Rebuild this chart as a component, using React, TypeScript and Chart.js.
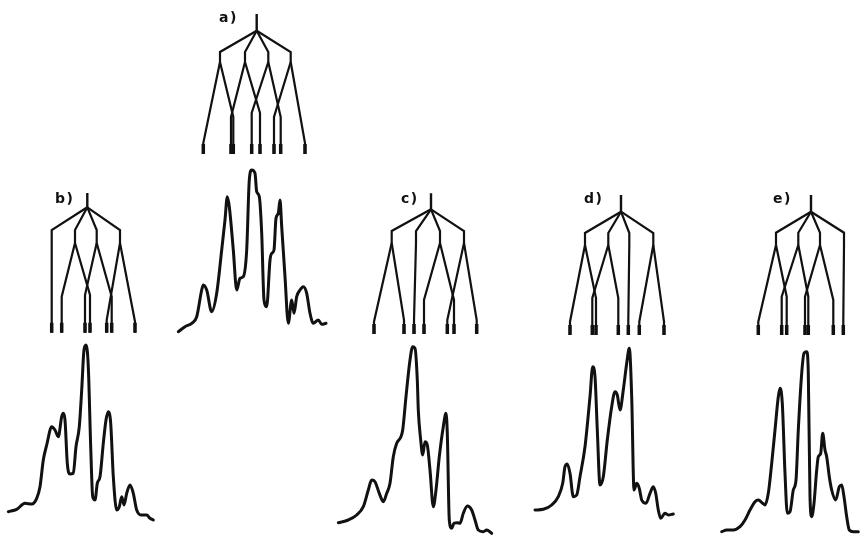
import React, { useEffect, useRef } from "react";
import { Chart, registerables } from "chart.js";

Chart.register(...registerables);

const INK = "#111111";

const panelLabels = ["a)", "b)", "c)", "d)", "e)"];

// ---- splitting trees (positions along the frequency axis, panel-local units) ----
const rootA = 86.7;
const nodesA = [50, 75, 98.3, 120.7];
const leavesA = [33.3, 61, 63.3, 81.7, 90, 104, 110.7, 135];
const leafParentA = [0, 1, 0, 2, 1, 3, 2, 3];
const leafBendA = [143, 117, 117, 113, 113, 117, 117, 143];

const rootB = 87.3;
const nodesB = [51.7, 75, 96.7, 120];
const leavesB = [51.7, 61.7, 85, 90, 106.7, 111.7, 135];
const leafParentB = [0, 1, 2, 1, 3, 2, 3];
const leafBendB = [63, 116.7, 115, 115, 140, 116.7, 141.7];

const rootC = 101;
const nodesC = [61.7, 86, 110, 134];
const leavesC = [44, 74, 84, 94, 117.3, 124, 146.7];
const leafParentC = [0, 0, 1, 2, 3, 2, 3];
const leafBendC = [141.7, 140, 140, 120, 140, 120, 140];

const rootD = 111;
const nodesD = [75, 98.3, 119.3, 143.3];
const leavesD = [60, 82.3, 86, 108.3, 118.3, 129.3, 154];
const leafParentD = [0, 1, 0, 1, 2, 3, 3];
const leafBendD = [141.7, 118, 118, 118, 140, 141.7, 141.7];

const rootE = 121;
const nodesE = [86, 108.3, 130, 154];
const leavesE = [68.3, 91.7, 96.7, 115, 118.3, 143.3, 153.3];
const leafParentE = [0, 1, 0, 2, 1, 2, 3];
const leafBendE = [141.7, 116.7, 116.7, 116.7, 116.7, 120, 140];

// ---- spectra (x: frequency, panel-local units; y: intensity) ----
const specAX = [8.3, 15, 21.7, 26.7, 31.7, 33.3, 36.7, 41.7, 46.7, 51.7, 55, 57.3, 59.3, 63.3, 66.7, 70, 73.3, 76.7, 79.3, 81.7, 85, 86.7, 89.3, 91.7, 94, 96.7, 100, 101.7, 104, 106, 108.3, 110, 111.7, 115, 118.3, 121.7, 124, 126.7, 130, 133.3, 136.7, 140, 143.3, 148.3, 151.7, 156];
const specAY = [8.3, 13.3, 16.7, 23.3, 50, 55, 50, 28.3, 46.7, 90, 120, 143.3, 133.3, 90, 50, 61.7, 63.3, 90, 160, 170, 166.7, 148.3, 143.3, 106.7, 40, 33.3, 80, 86.7, 90, 121.7, 126.7, 140, 113.3, 63.3, 16.7, 40, 26.7, 43.3, 50, 53.3, 46.7, 26.7, 16.7, 20, 15.7, 16.7];

const specBX = [8.3, 16.7, 25, 31.7, 36.7, 40, 43.3, 46.7, 51.7, 55, 58.3, 61.7, 63.3, 65, 67.3, 70, 73.3, 76, 79.3, 81.7, 84, 86, 88.3, 90.7, 92.7, 95, 97.3, 100, 103.3, 106, 108.3, 110.7, 113.3, 116.7, 119.3, 121.7, 124, 126.7, 130, 133.3, 136.7, 141.7, 146.7, 150, 153.3];
const specBY = [24.3, 26.7, 32.7, 32, 37.7, 49.3, 76, 91, 109.3, 106, 99.3, 119.3, 122.7, 116, 72.7, 62, 62.7, 89.3, 109.3, 146, 186, 191, 169.3, 89.3, 39.3, 36, 52.7, 59.3, 92.7, 116, 124.3, 112.7, 59.3, 26, 29.3, 39.3, 31, 42.7, 51, 42.7, 26, 21, 21, 17.7, 16];

const specCX = [8.3, 18.3, 26.7, 33.3, 38.3, 41.7, 45, 49.3, 53.3, 56.7, 60, 63.3, 66.7, 70.7, 72.7, 76, 80, 82.7, 85, 87.3, 88.3, 90.7, 92.7, 95, 97.3, 100, 103.3, 106, 109.3, 113.3, 116, 117.3, 119.3, 121.7, 124, 127.3, 130, 133.3, 137.3, 141.7, 145, 148.3, 153.3, 156.7, 161.7];
const specCY = [13.3, 16, 21, 29.3, 46, 56, 54.3, 42.7, 34.3, 42.7, 52.7, 79.3, 92.7, 98.7, 106, 139.3, 176, 189.3, 187.7, 156, 126, 96, 81, 94.3, 91, 66, 29.3, 46, 79.3, 109.3, 122.7, 102.7, 16, 7.7, 12.7, 13.3, 12.7, 22.7, 30, 26, 16, 6, 4.3, 6, 2.7];

const specDX = [25, 33.3, 41.7, 48.3, 52.7, 55, 57.3, 60, 63.3, 66.7, 70, 75, 80, 82.7, 85, 87.3, 90, 93.3, 97.3, 101.7, 105, 107.3, 110, 113.3, 116.7, 119.3, 121.7, 124, 126.7, 129.3, 131.7, 136, 140, 143.3, 145.7, 148.3, 150.7, 155, 158.3, 163.3];
const specDY = [26, 26.7, 31, 39.3, 52.7, 69.3, 72, 62.7, 39.3, 41, 59.3, 89.3, 139.3, 169.3, 159.3, 106, 51, 59.3, 96, 129.3, 144.3, 141, 126, 146, 172.7, 187.7, 139.3, 46, 52.7, 47.7, 36, 32.7, 42.7, 49.3, 42.7, 26, 17.7, 22.7, 21, 22];

const specEX = [31.7, 36.7, 43.3, 50, 55, 60, 65, 68.3, 72.7, 75, 78.3, 81.7, 85, 88.3, 90, 92.3, 95, 97.3, 100, 103.3, 106, 108.3, 111.7, 114, 116.7, 118.3, 120, 121.7, 124, 126.7, 128.3, 130.7, 132.7, 135, 136.7, 139.3, 141.7, 145.7, 149.3, 151.7, 154, 156.7, 159.3, 163.3, 168.3];
const specEY = [4.3, 6, 6, 9.3, 16, 26, 34.3, 36, 32.7, 31, 42.7, 72.7, 106, 139.3, 147.7, 132.7, 62.7, 22.7, 24.3, 46, 56, 106, 162.7, 182.7, 184.3, 162.7, 39.3, 19.3, 32.7, 66, 79.3, 82.7, 102.7, 86, 79.3, 59.3, 46, 36, 49.3, 51, 39.3, 19.3, 6, 4.3, 4.3];

// ---- layout (boxes on the page and vertical levels of each tree) ----
const LAYOUT = [
  { tree: { left: 170, top: 0, w: 170, h: 170 }, lv: { top: 14, split: 30.7, node: 52, stub: 62, bottom: 154 }, spec: { left: 170, top: 160, w: 170, h: 180 }, label: { left: 219, top: 10 } },
  { tree: { left: 0, top: 180, w: 170, h: 160 }, lv: { top: 13, split: 27.3, node: 50, stub: 63, bottom: 152.7 }, spec: { left: 0, top: 330, w: 170, h: 206 }, label: { left: 55, top: 191 } },
  { tree: { left: 330, top: 180, w: 180, h: 160 }, lv: { top: 13.3, split: 29.3, node: 51, stub: 63, bottom: 154 }, spec: { left: 330, top: 330, w: 180, h: 206 }, label: { left: 401, top: 191 } },
  { tree: { left: 510, top: 180, w: 170, h: 160 }, lv: { top: 15, split: 31.7, node: 53, stub: 65, bottom: 155 }, spec: { left: 510, top: 330, w: 170, h: 206 }, label: { left: 584, top: 191 } },
  { tree: { left: 690, top: 180, w: 170, h: 160 }, lv: { top: 15, split: 31.7, node: 52.7, stub: 65, bottom: 155 }, spec: { left: 690, top: 330, w: 170, h: 206 }, label: { left: 773, top: 191 } },
];

const TREES = [
  { root: rootA, nodes: nodesA, leaves: leavesA, parents: leafParentA, bends: leafBendA },
  { root: rootB, nodes: nodesB, leaves: leavesB, parents: leafParentB, bends: leafBendB },
  { root: rootC, nodes: nodesC, leaves: leavesC, parents: leafParentC, bends: leafBendC },
  { root: rootD, nodes: nodesD, leaves: leavesD, parents: leafParentD, bends: leafBendD },
  { root: rootE, nodes: nodesE, leaves: leavesE, parents: leafParentE, bends: leafBendE },
];

const SPECTRA = [
  { x: specAX, y: specAY },
  { x: specBX, y: specBY },
  { x: specCX, y: specCY },
  { x: specDX, y: specDY },
  { x: specEX, y: specEY },
];

function seg(pts: number[][], width: number) {
  return {
    data: pts.map(([x, y]) => ({ x, y })),
    borderColor: INK,
    borderWidth: width,
    pointRadius: 0,
    tension: 0,
    fill: false,
    clip: false as any,
    borderCapStyle: "butt" as const,
    borderJoinStyle: "miter" as const,
  };
}

function treeDatasets(t: any, lv: any) {
  const ds: any[] = [];
  ds.push(seg([[t.root, lv.top], [t.root, lv.split]], 2.4));
  t.nodes.forEach((n: number) => ds.push(seg([[t.root, lv.split], [n, lv.node], [n, lv.stub]], 2.2)));
  t.leaves.forEach((x: number, i: number) => {
    const n = t.nodes[t.parents[i]];
    ds.push(seg([[n, lv.stub], [x, t.bends[i]], [x, lv.bottom]], 2.2));
    ds.push(seg([[x, lv.bottom - 10], [x, lv.bottom]], 3.5));
  });
  return ds;
}

function specDatasets(s: any) {
  return [
    {
      data: s.x.map((x: number, i: number) => ({ x, y: s.y[i] })),
      borderColor: INK,
      borderWidth: 3,
      pointRadius: 0,
      cubicInterpolationMode: "monotone" as const,
      fill: false,
      clip: false as any,
      borderJoinStyle: "round" as const,
      borderCapStyle: "round" as const,
    },
  ];
}

function ChartBox({ box, datasets, reverseY }: { box: any; datasets: any[]; reverseY: boolean }) {
  const ref = useRef<HTMLCanvasElement>(null);
  useEffect(() => {
    if (!ref.current) return;
    const chart = new Chart(ref.current, {
      type: "line",
      data: { datasets },
      options: {
        animation: false,
        responsive: false,
        maintainAspectRatio: false,
        devicePixelRatio: 1,
        layout: { padding: 0 },
        parsing: false as any,
        normalized: true,
        plugins: { legend: { display: false }, tooltip: { enabled: false }, title: { display: false } },
        events: [],
        scales: {
          x: { type: "linear", min: 0, max: box.w, display: false },
          y: { type: "linear", min: 0, max: box.h, reverse: reverseY, display: false },
        },
      },
    });
    return () => chart.destroy();
  }, []);
  return (
    <canvas
      ref={ref}
      width={box.w}
      height={box.h}
      style={{ position: "absolute", left: box.left, top: box.top, width: box.w, height: box.h }}
    />
  );
}

export default function App() {
  return (
    <div
      style={{
        position: "fixed",
        left: 0,
        top: 0,
        width: 860,
        height: 536,
        background: "#ffffff",
        overflow: "hidden",
      }}
    >
      {LAYOUT.map((L, i) => (
        <React.Fragment key={i}>
          <ChartBox box={L.tree} datasets={treeDatasets(TREES[i], L.lv)} reverseY={true} />
          <ChartBox box={L.spec} datasets={specDatasets(SPECTRA[i])} reverseY={false} />
          <div
            style={{
              position: "absolute",
              left: L.label.left,
              top: L.label.top,
              fontFamily: "'DejaVu Sans', 'Liberation Sans', sans-serif",
              fontWeight: 700,
              fontSize: 14,
              lineHeight: "14px",
              letterSpacing: 1.5,
              color: INK,
            }}
          >
            {panelLabels[i]}
          </div>
        </React.Fragment>
      ))}
    </div>
  );
}
